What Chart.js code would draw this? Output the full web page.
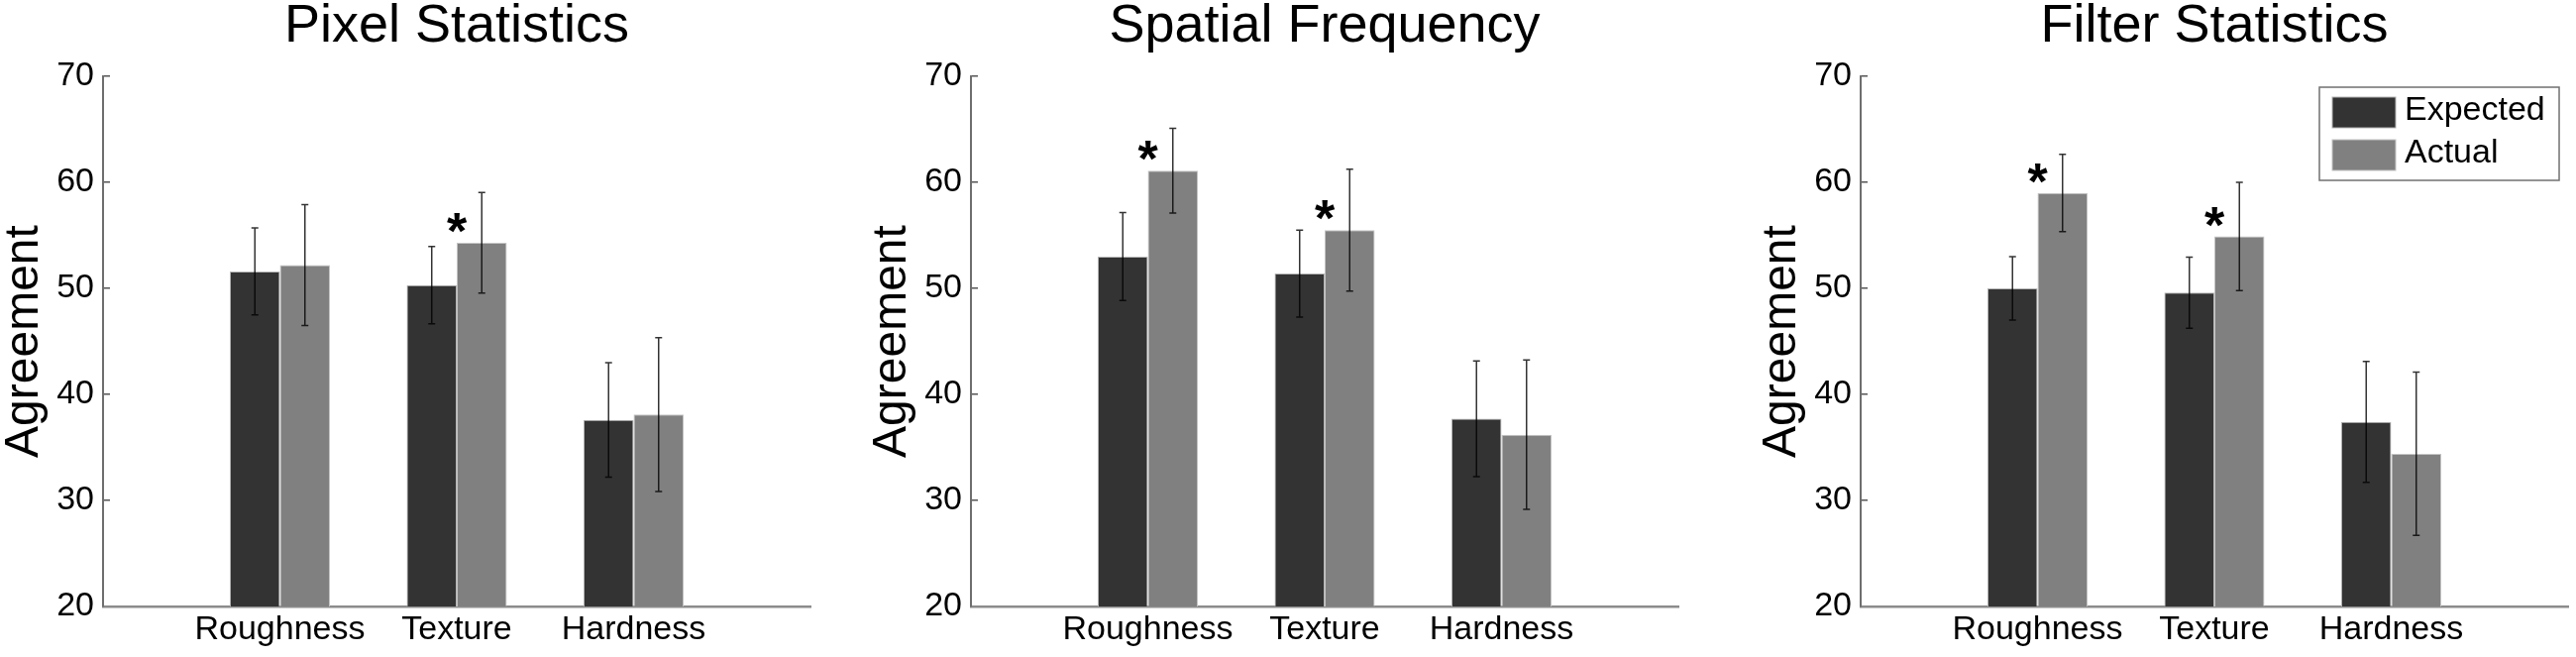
<!DOCTYPE html>
<html>
<head>
<meta charset="utf-8">
<script src="https://cdn.jsdelivr.net/npm/chart.js@4.4.1/dist/chart.umd.min.js"></script>
<style>
  body { margin: 0; background: #fff; }
  #wrap { position: relative; width: 2600px; height: 663px; }
  canvas { position: absolute; top: 0; }
</style>
</head>
<body>
<div id="wrap">
  <canvas id="pixelChart" width="826" height="663" style="left:0px"></canvas>
  <canvas id="spatialChart" width="826" height="663" style="left:876px"></canvas>
  <canvas id="filterChart" width="826" height="663" style="left:1774px"></canvas>
</div>
<script>
// Data
const categories = ['Roughness', 'Texture', 'Hardness'];
const seriesNames = ['Expected', 'Actual'];
const yTicks = [20, 30, 40, 50, 60, 70];

const pixelExpected = [51.6, 50.3, 37.6];
const pixelExpectedErr = [4.1, 3.65, 5.4];
const pixelActual = [52.2, 54.3, 38.1];
const pixelActualErr = [5.7, 4.75, 7.25];
const pixelSig = [false, true, false];

const spatialExpected = [53.0, 51.4, 37.7];
const spatialExpectedErr = [4.15, 4.1, 5.45];
const spatialActual = [61.1, 55.5, 36.2];
const spatialActualErr = [4.0, 5.75, 7.05];
const spatialSig = [true, true, false];

const filterExpected = [50.0, 49.6, 37.4];
const filterExpectedErr = [3.0, 3.35, 5.7];
const filterActual = [59.0, 54.9, 34.4];
const filterActualErr = [3.65, 5.1, 7.7];
const filterSig = [true, true, false];

const FONT = "'Liberation Sans', Arial, sans-serif";
const darkBar = '#333333';
const lightBar = '#808080';

// empty slots on both sides so the groups sit at 1/4, 1/2, 3/4 of the axis
const pad = arr => [null, ...arr, null];

// error bars, significance stars and the boxed legend
const extras = {
  id: 'extras',
  afterDatasetsDraw(chart, args, opts) {
    const ctx = chart.ctx;
    const yScale = chart.scales.y;
    const xScale = chart.scales.x;
    ctx.save();
    chart.data.datasets.forEach((ds, d) => {
      const meta = chart.getDatasetMeta(d);
      meta.data.forEach((bar, i) => {
        const v = ds.data[i];
        if (v == null) return;
        const e = ds.errors[i];
        const yHi = yScale.getPixelForValue(v + e);
        const yLo = yScale.getPixelForValue(v - e);
        ctx.strokeStyle = 'rgba(0,0,0,0.8)';
        ctx.lineWidth = 1.5;
        ctx.beginPath();
        ctx.moveTo(bar.x, yHi); ctx.lineTo(bar.x, yLo);
        ctx.moveTo(bar.x - 3.5, yHi); ctx.lineTo(bar.x + 3.5, yHi);
        ctx.moveTo(bar.x - 3.5, yLo); ctx.lineTo(bar.x + 3.5, yLo);
        ctx.stroke();
      });
    });
    // stars over the actual bar, centred on the group
    const actual = chart.data.datasets[1];
    opts.sig.forEach((s, i) => {
      if (!s) return;
      const idx = i + 1;
      const x = xScale.getPixelForValue(idx);
      const y = yScale.getPixelForValue(actual.data[idx]) + 6;
      ctx.fillStyle = '#000';
      ctx.font = 'bold 52px ' + FONT;
      ctx.textAlign = 'center';
      ctx.textBaseline = 'alphabetic';
      ctx.fillText('*', x, y);
    });
    if (opts.legend) {
      const ca = chart.chartArea;
      const w = 242, h = 94;
      const left = ca.right - 9 - w, top = ca.top + 11;
      ctx.fillStyle = '#fff';
      ctx.fillRect(left, top, w, h);
      ctx.strokeStyle = '#707070';
      ctx.lineWidth = 1.5;
      ctx.strokeRect(left, top, w, h);
      chart.data.datasets.forEach((ds, i) => {
        const y = top + 10 + i * 43;
        ctx.fillStyle = ds.backgroundColor;
        ctx.fillRect(left + 13, y, 64, 31);
        ctx.strokeStyle = ds.borderColor;
        ctx.lineWidth = 1;
        ctx.strokeRect(left + 13, y, 64, 31);
        ctx.fillStyle = '#000';
        ctx.font = '34px ' + FONT;
        ctx.textAlign = 'left';
        ctx.textBaseline = 'middle';
        ctx.fillText(ds.label, left + 86, y + 14);
      });
    }
    ctx.restore();
  }
};

function makePanel(canvasId, title, expected, expectedErr, actual, actualErr, sig, showLegend) {
  const ctx = document.getElementById(canvasId).getContext('2d');
  return new Chart(ctx, {
    type: 'bar',
    data: {
      labels: pad(categories).map(c => c || ''),
      datasets: [{
        label: seriesNames[0],
        data: pad(expected),
        errors: pad(expectedErr),
        backgroundColor: darkBar,
        borderColor: '#b5b5b5',
        borderWidth: 1,
        categoryPercentage: 0.566,
        barPercentage: 1.0
      }, {
        label: seriesNames[1],
        data: pad(actual),
        errors: pad(actualErr),
        backgroundColor: lightBar,
        borderColor: '#c4c4c4',
        borderWidth: 1,
        categoryPercentage: 0.566,
        barPercentage: 1.0
      }]
    },
    options: {
      responsive: false,
      animation: false,
      devicePixelRatio: 1,
      layout: { padding: { left: 0, right: 8, top: 0, bottom: 0 } },
      plugins: {
        legend: { display: false },
        tooltip: { enabled: false },
        title: {
          display: true,
          text: title,
          fullSize: false,
          color: '#000',
          font: { family: FONT, size: 54, weight: 'normal', lineHeight: 1 },
          padding: { top: 0, bottom: 23 }
        },
        extras: { sig: sig, legend: showLegend }
      },
      scales: {
        x: {
          type: 'category',
          offset: false,
          grid: { display: false, drawTicks: false },
          border: { display: true, color: '#8c8c8c', width: 2.5 },
          ticks: {
            color: '#000',
            font: { family: FONT, size: 34 },
            padding: 3,
            maxRotation: 0,
            autoSkip: false
          },
          afterFit(scale) { scale.height = 51; }
        },
        y: {
          min: yTicks[0],
          max: yTicks[yTicks.length - 1],
          afterBuildTicks(scale) { scale.ticks = yTicks.map(v => ({ value: v })); },
          ticks: {
            color: '#000',
            font: { family: FONT, size: 34 },
            padding: 16
          },
          grid: {
            display: true,
            drawOnChartArea: false,
            drawTicks: true,
            tickLength: -7,
            color: '#555',
            lineWidth: 1.5
          },
          border: { display: true, color: '#6e6e6e', width: 2 },
          title: {
            display: true,
            text: 'Agreement',
            color: '#000',
            font: { family: FONT, size: 48, lineHeight: 1 },
            padding: { top: 1, bottom: 0 }
          },
          afterFit(scale) { scale.width = 104; }
        }
      }
    },
    plugins: [extras]
  });
}

window.onload = function () {
  makePanel('pixelChart', 'Pixel Statistics', pixelExpected, pixelExpectedErr, pixelActual, pixelActualErr, pixelSig, false);
  makePanel('spatialChart', 'Spatial Frequency', spatialExpected, spatialExpectedErr, spatialActual, spatialActualErr, spatialSig, false);
  makePanel('filterChart', 'Filter Statistics', filterExpected, filterExpectedErr, filterActual, filterActualErr, filterSig, true);
};
</script>
</body>
</html>
